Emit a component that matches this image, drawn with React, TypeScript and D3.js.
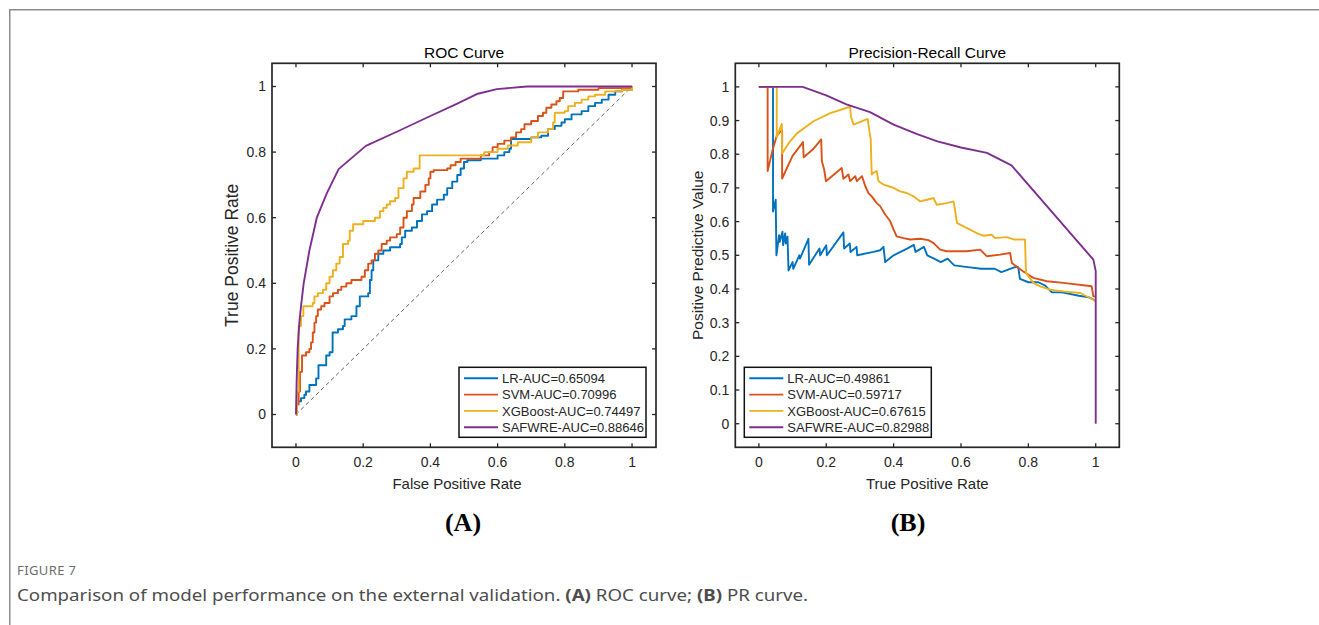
import React from "react";
import * as d3 from "d3";

type Pt = [number, number];

// ---- data ----
const seriesNames = ["LR", "SVM", "XGBoost", "SAFWRE"];
const seriesColors = ["#0072BD", "#D95319", "#EDB120", "#7E2F8E"];
const rocAuc = ["0.65094", "0.70996", "0.74497", "0.88646"];
const prAuc = ["0.49861", "0.59717", "0.67615", "0.82988"];

const rocTicks = [0, 0.2, 0.4, 0.6, 0.8, 1];
const prXTicks = [0, 0.2, 0.4, 0.6, 0.8, 1];
const prYTicks = [0, 0.1, 0.2, 0.3, 0.4, 0.5, 0.6, 0.7, 0.8, 0.9, 1];

// ROC points: [fpr, tpr] (step after)
const rocLR: Pt[] = [
  [0, 0], [0.003, 0.04], [0.015, 0.05], [0.025, 0.06], [0.03, 0.07], [0.04, 0.09],
  [0.06, 0.11], [0.067, 0.15], [0.09, 0.18], [0.1, 0.19], [0.109, 0.25], [0.125, 0.26],
  [0.14, 0.27], [0.145, 0.29], [0.165, 0.3], [0.18, 0.33], [0.19, 0.36], [0.215, 0.37],
  [0.22, 0.41], [0.225, 0.44], [0.23, 0.47], [0.245, 0.49], [0.26, 0.5], [0.28, 0.51],
  [0.31, 0.52], [0.315, 0.54], [0.325, 0.56], [0.345, 0.57], [0.36, 0.59], [0.375, 0.61],
  [0.39, 0.62], [0.405, 0.64], [0.42, 0.655], [0.44, 0.67], [0.45, 0.69], [0.465, 0.71],
  [0.48, 0.73], [0.49, 0.75], [0.5, 0.77], [0.51, 0.775], [0.55, 0.78], [0.6, 0.79],
  [0.62, 0.8], [0.635, 0.81], [0.64, 0.84], [0.7, 0.845], [0.73, 0.85], [0.75, 0.87],
  [0.77, 0.88], [0.79, 0.89], [0.8, 0.9], [0.82, 0.915], [0.85, 0.925], [0.87, 0.94],
  [0.89, 0.95], [0.91, 0.96], [0.93, 0.975], [0.95, 0.985], [0.97, 0.99], [1, 1],
];
const rocSVM: Pt[] = [
  [0, 0], [0.003, 0.03], [0.008, 0.07], [0.012, 0.13], [0.018, 0.18], [0.03, 0.19],
  [0.04, 0.2], [0.045, 0.22], [0.05, 0.25], [0.055, 0.28], [0.06, 0.3], [0.065, 0.32],
  [0.075, 0.33], [0.085, 0.34], [0.1, 0.36], [0.11, 0.37], [0.125, 0.38], [0.135, 0.39],
  [0.15, 0.4], [0.165, 0.41], [0.195, 0.42], [0.205, 0.44], [0.215, 0.46], [0.225, 0.47],
  [0.235, 0.49], [0.245, 0.5], [0.255, 0.52], [0.27, 0.53], [0.28, 0.54], [0.3, 0.55],
  [0.31, 0.57], [0.32, 0.6], [0.33, 0.62], [0.345, 0.64], [0.35, 0.66], [0.37, 0.68],
  [0.385, 0.7], [0.395, 0.72], [0.4, 0.74], [0.41, 0.745], [0.45, 0.75], [0.46, 0.76],
  [0.475, 0.77], [0.49, 0.78], [0.55, 0.79], [0.575, 0.8], [0.585, 0.815], [0.6, 0.825],
  [0.62, 0.835], [0.64, 0.845], [0.655, 0.86], [0.67, 0.87], [0.68, 0.885], [0.7, 0.895],
  [0.72, 0.91], [0.735, 0.92], [0.745, 0.935], [0.76, 0.945], [0.775, 0.955], [0.785, 0.965],
  [0.795, 0.985], [0.84, 0.99], [0.9, 0.995], [1, 1],
];
const rocXGB: Pt[] = [
  [0, 0], [0.003, 0.07], [0.008, 0.27], [0.015, 0.3], [0.022, 0.33], [0.05, 0.34],
  [0.055, 0.36], [0.065, 0.37], [0.08, 0.38], [0.09, 0.4], [0.1, 0.42], [0.11, 0.44],
  [0.12, 0.46], [0.13, 0.48], [0.14, 0.52], [0.155, 0.53], [0.16, 0.56], [0.17, 0.58],
  [0.2, 0.59], [0.235, 0.6], [0.25, 0.62], [0.26, 0.63], [0.27, 0.64], [0.28, 0.65],
  [0.295, 0.66], [0.305, 0.69], [0.32, 0.72], [0.33, 0.74], [0.35, 0.75], [0.368, 0.79],
  [0.55, 0.79], [0.56, 0.8], [0.6, 0.81], [0.63, 0.82], [0.66, 0.83], [0.7, 0.845],
  [0.72, 0.86], [0.75, 0.87], [0.765, 0.89], [0.77, 0.92], [0.8, 0.925], [0.81, 0.94],
  [0.83, 0.95], [0.85, 0.96], [0.87, 0.97], [0.89, 0.975], [0.92, 0.985], [0.97, 0.99], [1, 1],
];
const rocSAFWRE: Pt[] = [
  [0, 0], [0.002, 0.1], [0.005, 0.2], [0.01, 0.28], [0.015, 0.33], [0.023, 0.4],
  [0.04, 0.5], [0.062, 0.6], [0.092, 0.675], [0.127, 0.748], [0.208, 0.819], [0.3, 0.862],
  [0.4, 0.91], [0.48, 0.948], [0.538, 0.977], [0.598, 0.992], [0.687, 1], [1, 1],
];

// PR points: [recall, precision]
const prLR: Pt[] = [
  [0, 1], [0.042, 1], [0.042, 0.63], [0.05, 0.665], [0.052, 0.5], [0.06, 0.56], [0.062, 0.54],
  [0.07, 0.57], [0.072, 0.53], [0.078, 0.565], [0.08, 0.535], [0.085, 0.555], [0.088, 0.455],
  [0.1, 0.48], [0.102, 0.46], [0.12, 0.5], [0.122, 0.49], [0.147, 0.549], [0.149, 0.472],
  [0.18, 0.52], [0.182, 0.5], [0.2, 0.53], [0.202, 0.5], [0.251, 0.568], [0.253, 0.52],
  [0.27, 0.535], [0.272, 0.51], [0.29, 0.525], [0.292, 0.5], [0.34, 0.51], [0.36, 0.515],
  [0.37, 0.525], [0.375, 0.48], [0.4, 0.5], [0.44, 0.52], [0.46, 0.531], [0.465, 0.51],
  [0.49, 0.525], [0.5, 0.5], [0.52, 0.49], [0.54, 0.48], [0.56, 0.49], [0.58, 0.47],
  [0.62, 0.465], [0.66, 0.46], [0.7, 0.46], [0.72, 0.45], [0.76, 0.465], [0.77, 0.465],
  [0.775, 0.43], [0.8, 0.42], [0.83, 0.42], [0.85, 0.41], [0.87, 0.39], [0.9, 0.39],
  [0.95, 0.38], [0.98, 0.375], [1, 0.365],
];
const prSVM: Pt[] = [
  [0, 1], [0.026, 1], [0.026, 0.75], [0.04, 0.81], [0.053, 0.855], [0.069, 0.873], [0.069, 0.728],
  [0.1, 0.795], [0.131, 0.836], [0.133, 0.791], [0.16, 0.814], [0.185, 0.844], [0.187, 0.779],
  [0.194, 0.754], [0.199, 0.72], [0.246, 0.759], [0.251, 0.727], [0.266, 0.74], [0.271, 0.72],
  [0.286, 0.735], [0.291, 0.72], [0.306, 0.735], [0.316, 0.705], [0.325, 0.685], [0.335, 0.675],
  [0.35, 0.655], [0.36, 0.646], [0.375, 0.621], [0.39, 0.601], [0.4, 0.576], [0.409, 0.556],
  [0.429, 0.551], [0.449, 0.547], [0.479, 0.549], [0.503, 0.545], [0.518, 0.537], [0.538, 0.517],
  [0.558, 0.512], [0.617, 0.512], [0.657, 0.517], [0.677, 0.497], [0.716, 0.502], [0.746, 0.507],
  [0.751, 0.477], [0.785, 0.452], [0.815, 0.433], [0.855, 0.423], [0.904, 0.418], [0.988, 0.408],
  [0.993, 0.378], [1, 0.378],
];
const prXGB: Pt[] = [
  [0, 1], [0.053, 1], [0.053, 0.851], [0.068, 0.89], [0.069, 0.802], [0.09, 0.835], [0.113, 0.862],
  [0.162, 0.898], [0.212, 0.922], [0.271, 0.941], [0.273, 0.913], [0.281, 0.888], [0.323, 0.905],
  [0.326, 0.883], [0.332, 0.844], [0.335, 0.74], [0.34, 0.745], [0.35, 0.75], [0.355, 0.72],
  [0.37, 0.71], [0.385, 0.705], [0.4, 0.7], [0.419, 0.69], [0.439, 0.685], [0.459, 0.675],
  [0.479, 0.66], [0.499, 0.665], [0.518, 0.67], [0.528, 0.65], [0.558, 0.655], [0.578, 0.66],
  [0.583, 0.63], [0.588, 0.596], [0.607, 0.586], [0.627, 0.576], [0.647, 0.566], [0.667, 0.558],
  [0.691, 0.561], [0.701, 0.551], [0.736, 0.554], [0.756, 0.547], [0.79, 0.547], [0.793, 0.448],
  [0.815, 0.418], [0.835, 0.408], [0.864, 0.398], [0.904, 0.393], [0.954, 0.388], [0.993, 0.368],
  [1, 0.363],
];
const prSAFWRE: Pt[] = [
  [0, 1], [0.13, 1], [0.2, 0.975], [0.26, 0.948], [0.33, 0.925], [0.4, 0.888], [0.47, 0.86],
  [0.53, 0.838], [0.6, 0.82], [0.677, 0.804], [0.75, 0.767], [0.993, 0.487], [1, 0.453], [1, 0],
];

const FONT = "'Liberation Sans', Arial, Helvetica, sans-serif";
const SERIF = "'Liberation Serif', 'Times New Roman', serif";
const CAPTION_FONT = "'Noto Sans', 'Open Sans', sans-serif";
const INK = "#262626";

type PanelProps = {
  left: number;
  top: number;
  size: number;
  xDomain: [number, number];
  yDomain: [number, number];
  xTicks: number[];
  yTicks: number[];
  title: string;
  xLabel: string;
  xLabelShift: number;
  yLabel: string;
  yLabelSize: number;
  yLabelX: number;
  series: Pt[][];
  stepped: boolean[];
  labels: string[];
  legendLeft: boolean;
  diagonal?: boolean;
};

function Panel(p: PanelProps) {
  const x = d3.scaleLinear().domain(p.xDomain).range([p.left, p.left + p.size]);
  const y = d3.scaleLinear().domain(p.yDomain).range([p.top + p.size, p.top]);
  const bottom = p.top + p.size;
  const right = p.left + p.size;
  const cx = p.left + p.size / 2;
  const tl = 4;

  const legW = 187;
  const legH = 70;
  const legX = p.legendLeft ? p.left + 9 : right - 10 - legW;
  const legY = bottom - 10 - legH;

  return (
    <g>
      {p.diagonal && (
        <line x1={x(0)} y1={y(0)} x2={x(1)} y2={y(1)} stroke="#666" strokeWidth={1} strokeDasharray="4,3" />
      )}
      {p.series.map((s, i) => {
        const line = d3
          .line<Pt>()
          .x((d) => x(d[0]))
          .y((d) => y(d[1]))
          .curve(p.stepped[i] ? d3.curveStepAfter : d3.curveLinear);
        return (
          <path key={i} d={line(s) || ""} fill="none" stroke={seriesColors[i]} strokeWidth={1.9} strokeLinejoin="round" />
        );
      })}

      {/* box + inward ticks on all sides */}
      <rect x={p.left} y={p.top} width={p.size} height={p.size} fill="none" stroke={INK} strokeWidth={1.7} />
      {p.xTicks.map((t) => (
        <g key={"x" + t}>
          <line x1={x(t)} x2={x(t)} y1={bottom} y2={bottom - tl} stroke={INK} strokeWidth={1.3} />
          <line x1={x(t)} x2={x(t)} y1={p.top} y2={p.top + tl} stroke={INK} strokeWidth={1.3} />
          <text x={x(t)} y={bottom + 20} textAnchor="middle" fontFamily={FONT} fontSize={14} fill={INK}>
            {String(t)}
          </text>
        </g>
      ))}
      {p.yTicks.map((t) => (
        <g key={"y" + t}>
          <line x1={p.left} x2={p.left + tl} y1={y(t)} y2={y(t)} stroke={INK} strokeWidth={1.3} />
          <line x1={right} x2={right - tl} y1={y(t)} y2={y(t)} stroke={INK} strokeWidth={1.3} />
          <text x={p.left - 6} y={y(t) + 5} textAnchor="end" fontFamily={FONT} fontSize={14} fill={INK}>
            {String(t)}
          </text>
        </g>
      ))}

      <text x={cx} y={58} textAnchor="middle" fontFamily={FONT} fontSize={15.5} fill="#000">
        {p.title}
      </text>
      <text x={cx + p.xLabelShift} y={489} textAnchor="middle" fontFamily={FONT} fontSize={15} fill={INK}>
        {p.xLabel}
      </text>
      <text
        transform={`translate(${p.yLabelX},${p.top + p.size / 2}) rotate(-90)`}
        textAnchor="middle"
        fontFamily={FONT}
        fontSize={p.yLabelSize}
        fill={INK}
      >
        {p.yLabel}
      </text>

      {/* legend */}
      <rect x={legX} y={legY} width={legW} height={legH} fill="#fff" stroke="#111" strokeWidth={1.5} />
      {p.labels.map((lab, i) => {
        const ry = legY + 11 + i * 16.3;
        return (
          <g key={lab}>
            <line x1={legX + 5} x2={legX + 39} y1={ry} y2={ry} stroke={seriesColors[i]} strokeWidth={1.9} />
            <text x={legX + 43} y={ry + 4.6} fontFamily={FONT} fontSize={13} fill={INK}>
              {lab}
            </text>
          </g>
        );
      })}
    </g>
  );
}

export default function App() {
  const rocLabels = seriesNames.map((n, i) => `${n}-AUC=${rocAuc[i]}`);
  const prLabels = seriesNames.map((n, i) => `${n}-AUC=${prAuc[i]}`);
  return (
    <svg
      width={1319}
      height={625}
      viewBox="0 0 1319 625"
      style={{ position: "absolute", left: 0, top: 0, display: "block", background: "#fff" }}
    >
      <rect x={9.75} y={9.75} width={1400} height={800} fill="none" stroke="#8c8c8c" strokeWidth={1.5} />

      <Panel
        left={272}
        top={63.3}
        size={384}
        xDomain={[-0.0713, 1.0713]}
        yDomain={[-0.1, 1.0707]}
        xTicks={rocTicks}
        yTicks={rocTicks}
        title="ROC Curve"
        xLabel="False Positive Rate"
        xLabelShift={-7}
        yLabel="True Positive Rate"
        yLabelSize={17.5}
        yLabelX={238}
        series={[rocLR, rocSVM, rocXGB, rocSAFWRE]}
        stepped={[true, true, true, false]}
        labels={rocLabels}
        legendLeft={false}
        diagonal
      />
      <Panel
        left={735.3}
        top={63.3}
        size={384}
        xDomain={[-0.07, 1.07]}
        yDomain={[-0.07, 1.07]}
        xTicks={prXTicks}
        yTicks={prYTicks}
        title="Precision-Recall Curve"
        xLabel="True Positive Rate"
        xLabelShift={0}
        yLabel="Positive Predictive Value"
        yLabelSize={15.5}
        yLabelX={702.5}
        series={[prLR, prSVM, prXGB, prSAFWRE]}
        stepped={[false, false, false, false]}
        labels={prLabels}
        legendLeft={true}
      />

      <text x={463} y={531} textAnchor="middle" fontFamily={SERIF} fontWeight="bold" fontSize={26} fill="#000">
        (A)
      </text>
      <text x={908} y={531} textAnchor="middle" fontFamily={SERIF} fontWeight="bold" fontSize={26} fill="#000">
        (B)
      </text>

      <text x={17} y={575} fontFamily={CAPTION_FONT} fontSize={13} fill="#6e6e6e" letterSpacing={0.4}>
        FIGURE 7
      </text>
      <text
        x={17}
        y={601}
        fontFamily={CAPTION_FONT}
        fontSize={16.5}
        fill="#4d4d4d"
        textLength={791}
        lengthAdjust="spacingAndGlyphs"
      >
        Comparison of model performance on the external validation.{" "}
        <tspan fontWeight="bold">(A)</tspan> ROC curve; <tspan fontWeight="bold">(B)</tspan> PR curve.
      </text>
    </svg>
  );
}
